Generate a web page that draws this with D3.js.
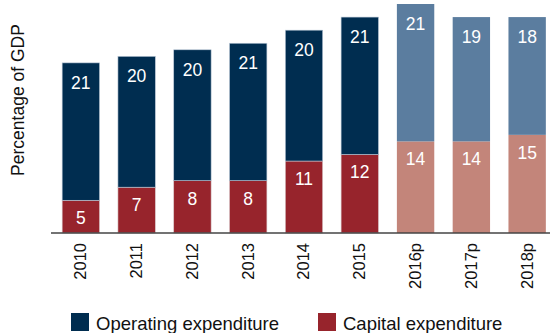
<!DOCTYPE html>
<html>
<head>
<meta charset="utf-8">
<script src="https://cdn.jsdelivr.net/npm/d3@7/dist/d3.min.js"></script>
<style>
  html, body { margin: 0; padding: 0; background: #fff; }
  svg { display: block; font-family: "Liberation Sans", Arial, Helvetica, sans-serif; }
</style>
</head>
<body>
<svg id="chart" width="550" height="333"></svg>
<script>
// Government expenditure, % of GDP (p = projection)
const years = ["2010", "2011", "2012", "2013", "2014", "2015", "2016p", "2017p", "2018p"];
const capital = [5, 7, 8, 8, 11, 12, 14, 14, 15];
const operating = [21, 20, 20, 21, 20, 21, 21, 19, 18];
const projected = [false, false, false, false, false, false, true, true, true];
const seriesNames = ["Operating expenditure", "Capital expenditure"];

const colors = {
  operating: "#002d50",
  capital: "#97242c",
  operatingProj: "#5b7d9f",
  capitalProj: "#c3857a"
};

const svg = d3.select("#chart");
const baseline = 233;

const x = d3.scaleBand()
  .domain(years)
  .range([51, 557])
  .paddingInner(0.33)
  .paddingOuter(0.2);

const y = d3.scaleLinear()
  .domain([0, 35])
  .range([baseline, baseline - 229]);

const rows = years.map((yr, i) => ({
  year: yr, cap: capital[i], op: operating[i], proj: projected[i]
}));

const g = svg.append("g");

// capital expenditure (bottom segment)
g.selectAll("rect.cap").data(rows).join("rect")
  .attr("class", "cap")
  .attr("x", d => x(d.year))
  .attr("width", x.bandwidth())
  .attr("y", d => y(d.cap))
  .attr("height", d => y(0) - y(d.cap))
  .attr("fill", d => d.proj ? colors.capitalProj : colors.capital)
  .attr("stroke", d => d.proj ? "none" : "#d9c9cb")
  .attr("stroke-width", 0.6);

// operating expenditure (stacked on top)
g.selectAll("rect.op").data(rows).join("rect")
  .attr("class", "op")
  .attr("x", d => x(d.year))
  .attr("width", x.bandwidth())
  .attr("y", d => y(d.cap + d.op))
  .attr("height", d => y(d.cap) - y(d.cap + d.op))
  .attr("fill", d => d.proj ? colors.operatingProj : colors.operating)
  .attr("stroke", d => d.proj ? "none" : "#b9c7d6")
  .attr("stroke-width", 0.6);

// value labels
g.selectAll("text.capLbl").data(rows).join("text")
  .attr("class", "capLbl")
  .attr("x", d => x(d.year) + x.bandwidth() / 2)
  .attr("y", d => y(d.cap) + 24)
  .attr("text-anchor", "middle")
  .attr("fill", "#fff")
  .attr("font-size", 17.5)
  .text(d => d.cap);

g.selectAll("text.opLbl").data(rows).join("text")
  .attr("class", "opLbl")
  .attr("x", d => x(d.year) + x.bandwidth() / 2)
  .attr("y", d => y(d.cap + d.op) + 26)
  .attr("text-anchor", "middle")
  .attr("fill", "#fff")
  .attr("font-size", 17.5)
  .text(d => d.op);

// x axis
const xAxis = d3.axisBottom(x).tickSize(0).tickPadding(0);
const ax = svg.append("g")
  .attr("transform", `translate(0,${baseline})`)
  .call(xAxis);
ax.select(".domain")
  .attr("d", "M51,0H550")
  .attr("stroke", "#444")
  .attr("stroke-width", 1.6);
ax.selectAll(".tick text")
  .attr("font-family", "Liberation Sans, Arial, sans-serif")
  .attr("font-size", 16.5)
  .attr("fill", "#111")
  .attr("transform", "rotate(-90)")
  .attr("text-anchor", "end")
  .attr("x", -10)
  .attr("y", 0)
  .attr("dy", "0.33em");

// y axis title
svg.append("text")
  .attr("transform", "translate(24,100) rotate(-90)")
  .attr("text-anchor", "middle")
  .attr("font-size", 17.5)
  .attr("fill", "#111")
  .text("Percentage of GDP");

// legend
const legend = svg.append("g");
const legendItems = [
  { name: seriesNames[0], color: colors.operating, x: 71 },
  { name: seriesNames[1], color: colors.capital, x: 318 }
];
legendItems.forEach(it => {
  legend.append("rect")
    .attr("x", it.x).attr("y", 313)
    .attr("width", 18).attr("height", 18)
    .attr("fill", it.color);
  legend.append("text")
    .attr("x", it.x + 25).attr("y", 330)
    .attr("font-size", 18.5)
    .attr("fill", "#111")
    .text(it.name);
});
</script>
</body>
</html>
